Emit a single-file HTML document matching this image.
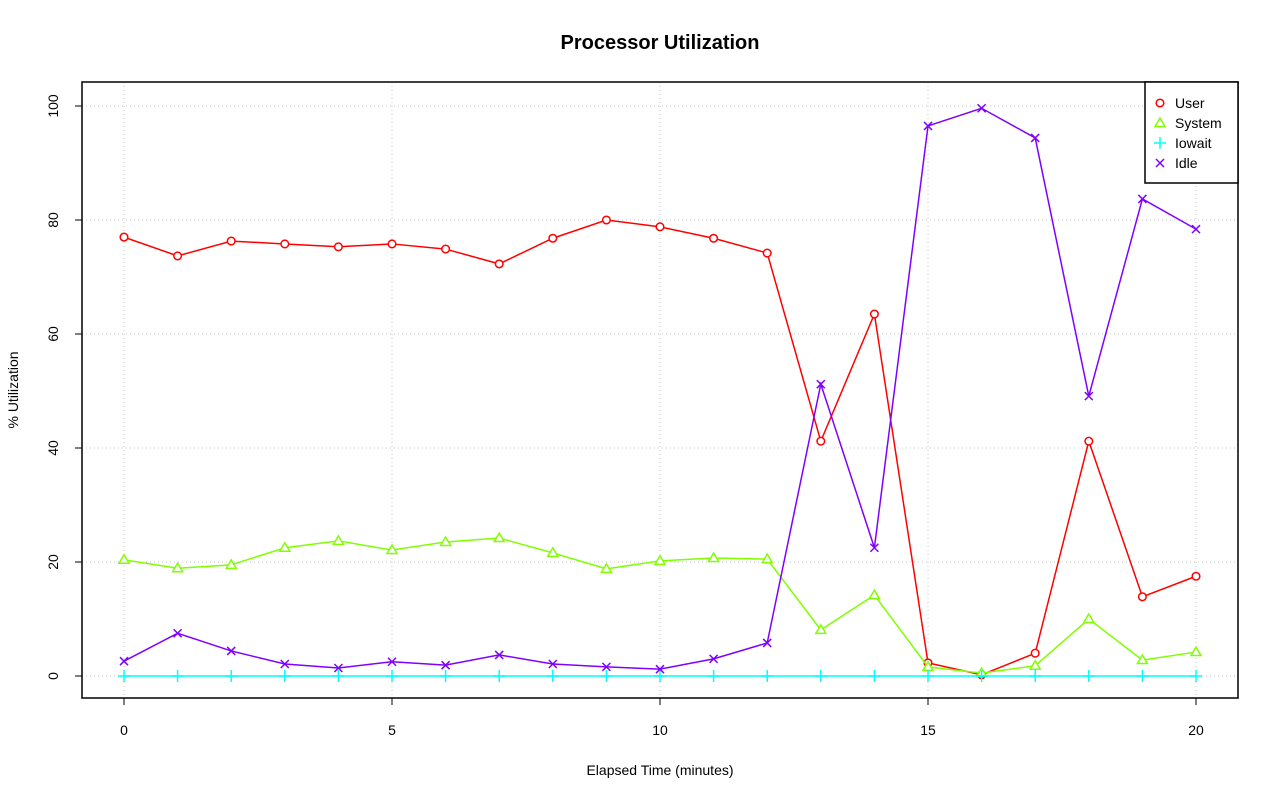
<!DOCTYPE html>
<html><head><meta charset="utf-8"><style>
body{margin:0;background:#fff;}
svg{display:block;font-family:"Liberation Sans",sans-serif;}
</style></head><body>
<svg id="chart" width="1280" height="801"></svg>
<script>
const times=[0,1,2,3,4,5,6,7,8,9,10,11,12,13,14,15,16,17,18,19,20];
const userVals=[77.0,73.7,76.3,75.8,75.3,75.8,74.9,72.3,76.8,80.0,78.8,76.8,74.2,41.2,63.5,2.3,0.2,4.0,41.2,13.9,17.5];
const systemVals=[20.4,18.9,19.5,22.5,23.7,22.1,23.5,24.2,21.6,18.8,20.2,20.7,20.5,8.1,14.2,1.6,0.5,1.8,10.0,2.8,4.2];
const iowaitVals=[0,0,0,0,0,0,0,0,0,0,0,0,0,0,0,0,0,0,0,0,0];
const idleVals=[2.6,7.5,4.4,2.1,1.4,2.5,1.9,3.7,2.1,1.6,1.2,3.0,5.8,51.2,22.5,96.5,99.6,94.4,49.1,83.7,78.4];
const xTicks=[0,5,10,15,20];
const yTicks=[0,20,40,60,80,100];

const NS="http://www.w3.org/2000/svg";
const svg=document.getElementById('chart');
const X=v=>124+(1196-124)*v/20;
const Y=v=>676-(676-106)*v/100;
function mk(tag,attrs,parent){const e=document.createElementNS(NS,tag);for(const k in attrs)e.setAttribute(k,attrs[k]);(parent||svg).appendChild(e);return e;}
function txt(x,y,s,attrs){const t=mk('text',Object.assign({x:x,y:y,'font-size':14,'text-anchor':'middle'},attrs||{}));t.textContent=s;return t;}

xTicks.forEach(v=>{const l=mk('line',{x1:X(v),x2:X(v),y1:82,y2:698,stroke:'#c8c8c8','stroke-dasharray':'1,3'});

});
yTicks.forEach(v=>{const l=mk('line',{x1:82,x2:1238,y1:Y(v),y2:Y(v),stroke:'#c8c8c8','stroke-dasharray':'1,3'});

});

xTicks.forEach(v=>{mk('line',{x1:X(v),x2:X(v),y1:698,y2:705,stroke:'#000'});
const t=txt(X(v),735,String(v));

});
yTicks.forEach(v=>{mk('line',{x1:75,x2:82,y1:Y(v),y2:Y(v),stroke:'#000'});
const t=txt(0,0,String(v),{transform:`translate(58,${Y(v)}) rotate(-90)`});

});

function series(vals,color,name,sym){
  const g=mk('g',{});
  
  
  const pts=vals.map((v,i)=>[X(times[i]),Y(v)]);
  mk('polyline',{points:pts.map(p=>p.join(',')).join(' '),fill:'none',stroke:color,'stroke-width':1.5},g);
  pts.forEach(p=>{const m=symbol(sym,p[0],p[1],color,g);
  
  });
}
function symbol(sym,x,y,color,g){
  if(sym==='o'){return mk('circle',{cx:x,cy:y,r:3.8,fill:'#fff',stroke:color,'stroke-width':1.5},g);}
  if(sym==='t'){return mk('polygon',{points:`${x},${y-5} ${x+5},${y+3.5} ${x-5},${y+3.5}`,fill:'#fff',stroke:color,'stroke-width':1.5},g);}
  if(sym==='+'){return mk('path',{d:`M${x-6},${y}H${x+6}M${x},${y-6}V${y+6}`,stroke:color,'stroke-width':1.5},g);}
  return mk('path',{d:`M${x-4},${y-4}L${x+4},${y+4}M${x-4},${y+4}L${x+4},${y-4}`,stroke:color,'stroke-width':1.5},g);
}
series(userVals,'#ff0000','user','o');
series(systemVals,'#80ff00','system','t');
series(iowaitVals,'#00ffff','iowait','+');
series(idleVals,'#8000ff','idle','x');

const box=mk('rect',{x:82,y:82,width:1156,height:616,fill:'none',stroke:'#000','stroke-width':1.5});



const lg=mk('g',{});


mk('rect',{x:1145,y:82,width:93,height:101,fill:'#fff',stroke:'#000','stroke-width':1.5},lg);
const legNames=['User','System','Iowait','Idle'];
const legColors=['#ff0000','#80ff00','#00ffff','#8000ff'];
const legSyms=['o','t','+','x'];
legNames.forEach((n,i)=>{const y=103+i*20;
const e=mk('g',{},lg);


symbol(legSyms[i],1160,y,legColors[i],e);
const t=mk('text',{x:1175,y:y+5,'font-size':14},e);t.textContent=n;});

const title=txt(660,49,'Processor Utilization',{'font-size':20,'font-weight':'bold'});


const xl=txt(660,775,'Elapsed Time (minutes)');


const yl=txt(0,0,'% Utilization',{transform:'translate(18,390) rotate(-90)'});


</script>
</body></html>
